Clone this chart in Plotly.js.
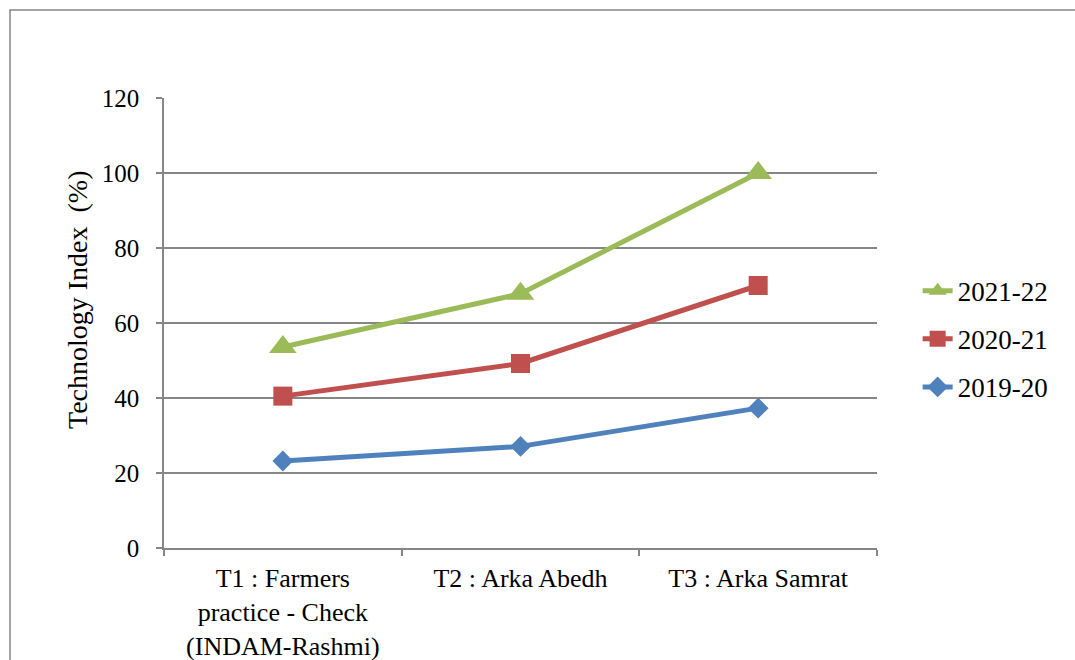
<!DOCTYPE html>
<html>
<head>
<meta charset="utf-8">
<script src="https://cdn.plot.ly/plotly-3.0.1.min.js"></script>
<style>
  html, body { margin: 0; padding: 0; background: #fff; }
  #chart { width: 1075px; height: 660px; }
</style>
</head>
<body>
<div id="chart"></div>
<script>
const categories = [
  "T1 : Farmers<br>practice - Check<br>(INDAM-Rashmi)",
  "T2 : Arka Abedh",
  "T3 : Arka Samrat"
];
const seriesNames = ["2019-20", "2020-21", "2021-22"];
const values2019 = [23.2, 27.1, 37.3];
const values2020 = [40.5, 49.2, 70.0];
const values2021 = [53.6, 67.8, 100.0];
const yTicks = [0, 20, 40, 60, 80, 100, 120];
const yTitle = "Technology Index  (%)";

const colors = ["#4F81BD", "#C0504D", "#9BBB59"];
const symbols = ["diamond", "square", "triangle-up"];
const sizes = [16, 19, 24];
const ranks = [3, 2, 1];
const allValues = [values2019, values2020, values2021];

const font = "Liberation Serif";

const traces = allValues.map((vals, i) => ({
  type: "scatter",
  mode: "lines+markers",
  name: seriesNames[i],
  legendgroup: "g" + i,
  legendrank: ranks[i],
  x: categories,
  y: vals,
  line: { color: colors[i], width: 5 },
  marker: { symbol: symbols[i], size: sizes[i], color: colors[i] },
  hoverinfo: "x+y+name"
}));

const layout = {
  width: 1075,
  height: 660,
  paper_bgcolor: "#ffffff",
  plot_bgcolor: "#ffffff",
  margin: { l: 164, r: 198, t: 98, b: 112 },
  font: { family: font, color: "#000", size: 24 },
  showlegend: true,
  legend: {
    x: 1.057, xanchor: "left",
    y: 0.464, yanchor: "middle",
    traceorder: "grouped",
    tracegroupgap: 10,
    font: { family: font, size: 27, color: "#000" },
    bgcolor: "rgba(0,0,0,0)",
    itemwidth: 30
  },
  xaxis: {
    type: "category",
    range: [-0.5, 2.5],
    showgrid: false,
    showline: true,
    linecolor: "#868686",
    linewidth: 1.5,
    ticks: "outside",
    tickson: "boundaries",
    ticklen: 6,
    tickcolor: "#868686",
    tickwidth: 1.5,
    ticklabelstandoff: 6,
    tickfont: { family: font, size: 26, color: "#000" },
    zeroline: false,
    fixedrange: true
  },
  yaxis: {
    range: [0, 120],
    tickvals: yTicks,
    ticktext: yTicks.map(String),
    showgrid: true,
    gridcolor: "#868686",
    gridwidth: 1.5,
    showline: true,
    linecolor: "#868686",
    linewidth: 1.5,
    ticks: "outside",
    ticklen: 6,
    tickcolor: "#868686",
    tickwidth: 1.5,
    ticklabelstandoff: 12,
    tickfont: { family: font, size: 25, color: "#000" },
    zeroline: false,
    fixedrange: true
  },
  annotations: [{
    text: yTitle.replace(/  /g, " \u00a0"),
    xref: "paper", yref: "paper",
    x: (77 - 164) / 713, y: (548 - 300) / 450,
    xanchor: "center", yanchor: "middle",
    textangle: -90,
    showarrow: false,
    font: { family: font, size: 28, color: "#000" }
  }],
  shapes: [{
    type: "rect",
    xref: "paper", yref: "paper",
    x0: (10 - 164) / 713, x1: 1.6,
    y0: -0.6, y1: (548 - 10) / 450,
    line: { color: "#868686", width: 1.5 },
    fillcolor: "rgba(0,0,0,0)",
    layer: "below"
  }]
};

Plotly.newPlot("chart", traces, layout, { displayModeBar: false });
</script>
</body>
</html>
